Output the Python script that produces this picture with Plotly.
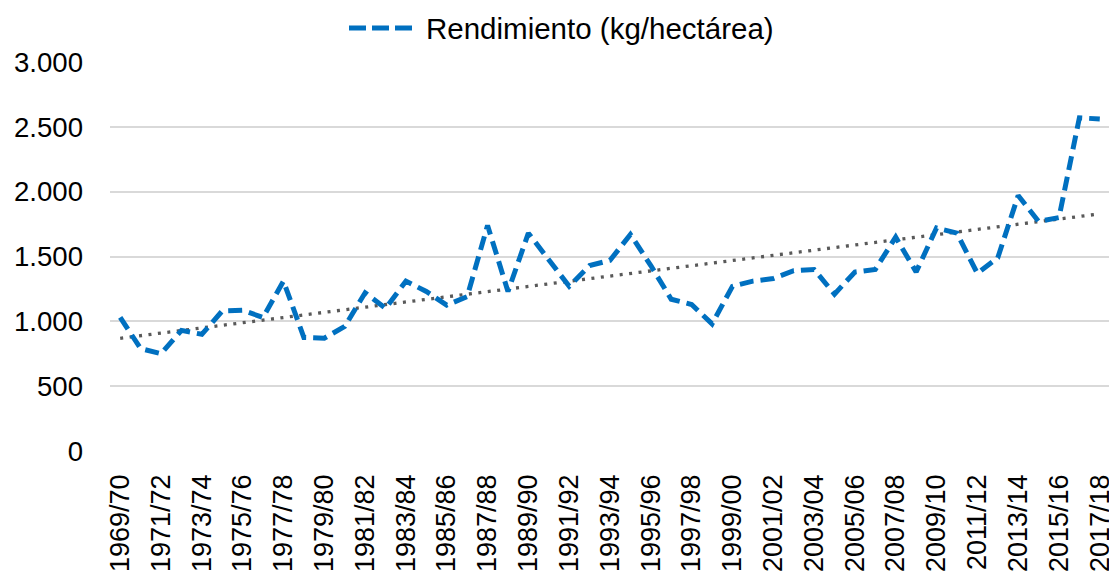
import numpy as np
import plotly.graph_objects as go

campaigns = [
    "1969/70", "1970/71", "1971/72", "1972/73", "1973/74", "1974/75", "1975/76",
    "1976/77", "1977/78", "1978/79", "1979/80", "1980/81", "1981/82", "1982/83",
    "1983/84", "1984/85", "1985/86", "1986/87", "1987/88", "1988/89", "1989/90",
    "1990/91", "1991/92", "1992/93", "1993/94", "1994/95", "1995/96", "1996/97",
    "1997/98", "1998/99", "1999/00", "2000/01", "2001/02", "2002/03", "2003/04",
    "2004/05", "2005/06", "2006/07", "2007/08", "2008/09", "2009/10", "2010/11",
    "2011/12", "2012/13", "2013/14", "2014/15", "2015/16", "2016/17", "2017/18",
]
yield_kg_ha = [
    1030, 790, 750, 930, 900, 1080, 1085,
    1030, 1310, 875, 870, 960, 1220, 1100,
    1310, 1230, 1125, 1190, 1740, 1230, 1680,
    1470, 1270, 1430, 1470, 1670, 1430, 1170,
    1130, 980, 1270, 1310, 1330, 1390, 1400,
    1210, 1380, 1400, 1650, 1380, 1720, 1680,
    1370, 1490, 1970, 1770, 1800, 2570, 2560,
]
tick_labels = campaigns[::2]
series_name = "Rendimiento (kg/hectárea)"

# Linear trend line (as in the original chart)
idx = np.arange(len(yield_kg_ha))
slope, intercept = np.polyfit(idx, yield_kg_ha, 1)
trend = intercept + slope * idx

BLUE = "#0070C0"
FONT = "Liberation Sans, Arial, sans-serif"

fig = go.Figure()
fig.add_trace(go.Scatter(
    x=campaigns, y=trend, mode="lines", showlegend=False,
    line=dict(color="#595959", width=3.3, dash="3px,6.5px"),
    hoverinfo="skip",
))
fig.add_trace(go.Scatter(
    x=campaigns, y=yield_kg_ha, mode="lines", name=series_name,
    showlegend=False,
    line=dict(color=BLUE, width=5, dash="14px,7px"),
))

# page offset from the default body margin
OFF = 8
W, H = 1117 - OFF, 573 - OFF
# plot area in page pixels
L, R, T, B = 110, 1110, 62, 451

def px_x(p):
    return (p - L) / (R - L)

ly = (B - 28) / (B - T)
fig.add_shape(type="line", xref="paper", yref="paper",
              x0=px_x(349), x1=px_x(414), y0=ly, y1=ly,
              line=dict(color=BLUE, width=5, dash="17px,6px"))
fig.add_annotation(xref="paper", yref="paper", x=px_x(424), y=ly,
                   text=series_name, showarrow=False,
                   xanchor="left", yanchor="middle",
                   font=dict(family=FONT, size=29.5, color="#000000"))

fig.update_layout(
    width=W, height=H,
    margin=dict(l=L - OFF, r=W - (R - OFF), t=T - OFF, b=H - (B - OFF), pad=0),
    paper_bgcolor="white", plot_bgcolor="white",
    separators=",.",
    font=dict(family=FONT, size=27, color="#000000"),
    showlegend=False,
)
fig.update_xaxes(
    type="category", range=[-0.5, len(campaigns) - 0.5], automargin=False,
    tickmode="array", tickvals=tick_labels, ticktext=tick_labels,
    tickangle=-90, showgrid=False, zeroline=False, showline=False,
    ticks="", ticklabelstandoff=17,
    tickfont=dict(family=FONT, size=27, color="#000000"),
)
fig.update_yaxes(
    range=[0, 3000], dtick=500, tick0=0, tickformat=",d", automargin=False,
    showgrid=True, gridcolor="#D9D9D9", gridwidth=1.5,
    zeroline=False, showline=False, ticks="", ticklabelstandoff=26,
    tickfont=dict(family=FONT, size=27.6, color="#000000"),
)

fig.write_html("out.html")
